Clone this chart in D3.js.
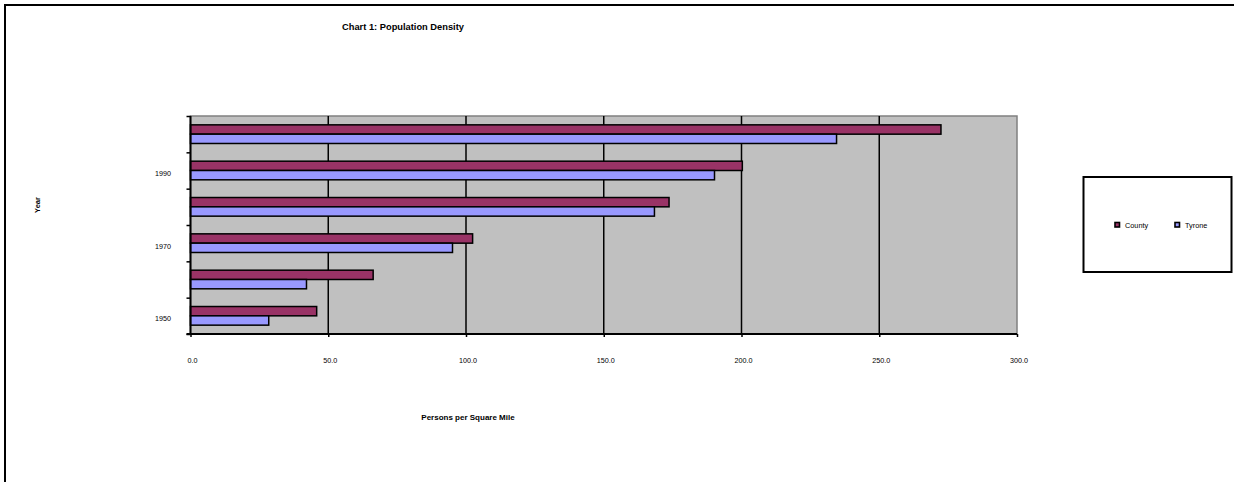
<!DOCTYPE html>
<html>
<head>
<meta charset="utf-8">
<script src="https://cdn.jsdelivr.net/npm/d3@7"></script>
<style>
  html, body { margin: 0; padding: 0; background: #fff; overflow: hidden; }
  svg { display: block; font-family: "Liberation Sans", Arial, sans-serif; }
</style>
</head>
<body>
<svg id="chart" width="1234" height="482"></svg>
<script>
// ---- data ----
const years = ["1950", "1960", "1970", "1980", "1990", "2000"];
const yearLabels = ["1950", "", "1970", "", "1990", ""];
const series = ["County", "Tyrone"];
const countyValues = [45.8, 66.3, 102.4, 173.7, 200.3, 272.4];
const tyroneValues = [28.4, 42.1, 95.1, 168.4, 190.2, 234.5];
const xTicks = [0, 50, 100, 150, 200, 250, 300];
const seriesColors = ["#993366", "#9999FF"];

// ---- layout ----
const svg = d3.select("#chart");
const plot = { left: 190.5, right: 1017, top: 116, bottom: 334 };

// outer border: only top and left edges fall inside the view
svg.append("path")
  .attr("d", "M5,482V5H1234")
  .attr("fill", "none").attr("stroke", "#000").attr("stroke-width", 2);

const x = d3.scaleLinear().domain([0, 300]).range([plot.left, plot.right]);
const y = d3.scaleBand().domain(years).range([plot.bottom, plot.top]).padding(0);
const yInner = d3.scaleBand().domain(series).range([0, y.bandwidth()])
  .paddingInner(0).paddingOuter(0.95);

// plot background
svg.append("rect")
  .attr("x", plot.left).attr("y", plot.top)
  .attr("width", plot.right - plot.left).attr("height", plot.bottom - plot.top)
  .attr("fill", "#C0C0C0").attr("stroke", "#808080").attr("stroke-width", 1.5);

// gridlines
svg.append("g").selectAll("line")
  .data(xTicks.filter(d => d > 0 && d < 300))
  .join("line")
  .attr("x1", d => x(d)).attr("x2", d => x(d))
  .attr("y1", plot.top).attr("y2", plot.bottom)
  .attr("stroke", "#000").attr("stroke-width", 1.5);

// bars
const data = years.map((yr, i) => ({ year: yr, values: [countyValues[i], tyroneValues[i]] }));
const groups = svg.append("g").selectAll("g")
  .data(data).join("g")
  .attr("transform", d => `translate(0,${y(d.year)})`);
groups.selectAll("rect")
  .data(d => d.values.map((v, j) => ({ s: series[j], v, j })))
  .join("rect")
  .attr("x", x(0))
  .attr("y", d => yInner(d.s))
  .attr("width", d => x(d.v) - x(0))
  .attr("height", yInner.bandwidth())
  .attr("fill", d => seriesColors[d.j])
  .attr("stroke", "#000").attr("stroke-width", 1.5);

// x axis
const xAxis = svg.append("g")
  .attr("transform", `translate(0,${plot.bottom})`)
  .call(d3.axisBottom(x).tickValues(xTicks).tickSize(3).tickPadding(21)
    .tickFormat(d3.format(".1f")));
xAxis.select(".domain").attr("stroke", "#000").attr("stroke-width", 2)
  .attr("d", `M${plot.left - 4},0H${plot.right}`);
xAxis.selectAll(".tick line").attr("stroke", "#000").attr("stroke-width", 1.5);
xAxis.selectAll(".tick text")
  .attr("font-family", "Liberation Sans, Arial, sans-serif")
  .attr("font-size", 7.2).attr("fill", "#000").attr("dx", 1.5);

// y axis: ticks at category boundaries
const yEdge = d3.scaleLinear().domain([0, years.length]).range([plot.bottom, plot.top]);
const yAxis = svg.append("g")
  .attr("transform", `translate(${plot.left},0)`)
  .call(d3.axisLeft(yEdge).tickValues(d3.range(0, years.length + 1)).tickSize(4).tickFormat(""));
yAxis.select(".domain").attr("stroke", "#000").attr("stroke-width", 2)
  .attr("d", `M0,${plot.top}V${plot.bottom}`);
yAxis.selectAll(".tick line").attr("stroke", "#000").attr("stroke-width", 1.5);

// y labels
svg.append("g").selectAll("text")
  .data(years.map((yr, i) => ({ yr, label: yearLabels[i] })).filter(d => d.label))
  .join("text")
  .attr("x", 171)
  .attr("y", d => y(d.yr) + y.bandwidth() / 2 + 3.5)
  .attr("dominant-baseline", "middle")
  .attr("text-anchor", "end")
  .attr("font-size", 7.2)
  .attr("fill", "#000")
  .text(d => d.label);

// title
svg.append("text")
  .attr("x", 403).attr("y", 30)
  .attr("text-anchor", "middle")
  .attr("font-size", 9.3).attr("font-weight", "bold")
  .text("Chart 1: Population Density");

// axis titles
svg.append("text")
  .attr("x", 468).attr("y", 420)
  .attr("text-anchor", "middle")
  .attr("font-size", 8).attr("font-weight", "bold")
  .text("Persons per Square Mile");

svg.append("text")
  .attr("transform", "translate(40,205) rotate(-90)")
  .attr("text-anchor", "middle")
  .attr("font-size", 7.5).attr("font-weight", "bold")
  .text("Year");

// legend
const legend = svg.append("g");
legend.append("rect")
  .attr("x", 1083.5).attr("y", 177).attr("width", 148).attr("height", 95)
  .attr("fill", "#fff").attr("stroke", "#000").attr("stroke-width", 2);
const legendX = [1115, 1175];
const items = legend.selectAll("g.item")
  .data(series.map((s, i) => ({ s, i })))
  .join("g").attr("class", "item")
  .attr("transform", d => `translate(${legendX[d.i]},222.5)`);
items.append("rect")
  .attr("x", 0).attr("y", 0).attr("width", 4.5).attr("height", 4.5)
  .attr("fill", d => seriesColors[d.i])
  .attr("stroke", "#000").attr("stroke-width", 1.6);
items.append("text")
  .attr("x", 10).attr("y", 5.5)
  .attr("font-size", 7.3)
  .text(d => d.s);
</script>
</body>
</html>
